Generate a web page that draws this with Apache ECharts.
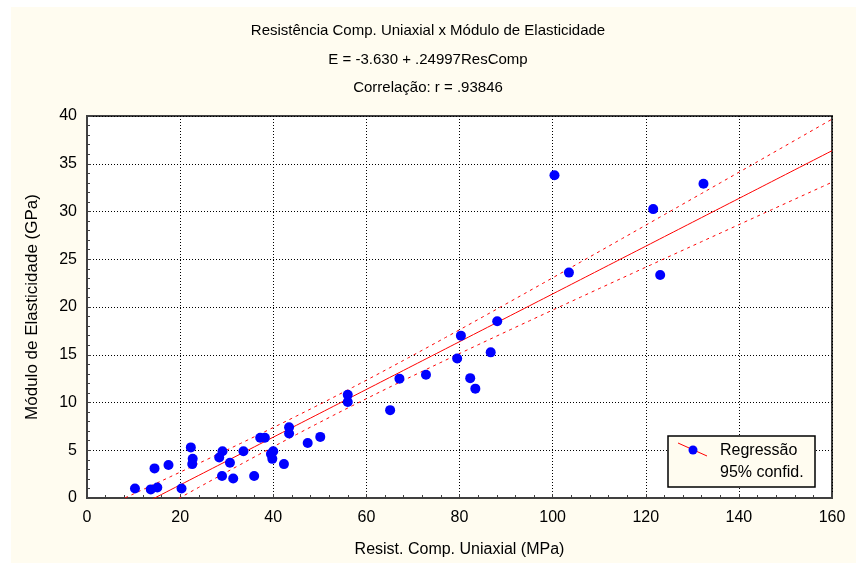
<!DOCTYPE html>
<html><head><meta charset="utf-8">
<script src="https://cdn.jsdelivr.net/npm/echarts@6/dist/echarts.min.js"></script>
<style>html,body{margin:0;padding:0;background:#fff}#c{width:856px;height:563px}</style>
</head><body><div id="c"></div>
<script>
// Data (Resist. Comp. Uniaxial MPa, Módulo de Elasticidade GPa)
var resComp = [10.3,13.7,15.1,14.5,17.5,20.3,22.3,22.7,22.6,29.1,28.4,30.7,29.0,31.4,33.6,35.9,37.2,38.2,40.0,39.5,39.8,42.3,43.4,43.4,47.4,50.1,56.0,56.0,65.1,67.1,72.8,79.5,80.3,82.3,83.4,86.7,88.1,100.4,103.5,121.6,123.1,132.4];
var modulo  = [1.0,0.9,1.1,3.1,3.45,1.0,5.3,4.1,3.55,4.9,4.25,3.7,2.3,2.05,4.9,2.3,6.3,6.3,4.9,4.6,4.1,3.55,7.4,6.75,5.75,6.4,10.8,10.05,9.2,12.5,12.9,14.6,17.0,12.55,11.45,15.25,18.5,33.8,23.6,30.25,23.35,32.9];
var intercept = -3.630, slope = 0.24997;
var xTicks = [0,20,40,60,80,100,120,140,160];
var yTicks = [0,5,10,15,20,25,30,35,40];
var titleLines = ['Resistência Comp. Uniaxial x Módulo de Elasticidade','E = -3.630 + .24997ResComp','Correlação: r = .93846'];
var legendLines = ['Regressão','95% confid.'];

var n = resComp.length;
var xm = resComp.reduce(function(a,b){return a+b;},0)/n;
var sxx = 0, sse = 0;
for (var i=0;i<n;i++){ sxx += (resComp[i]-xm)*(resComp[i]-xm); var r = modulo[i]-(intercept+slope*resComp[i]); sse += r*r; }
var s = Math.sqrt(sse/(n-2)), tval = 2.021;
var regLine = [], upper = [], lower = [];
for (var x=0; x<=160; x+=1){
  var yh = intercept+slope*x;
  var hw = tval*s*Math.sqrt(1/n + (x-xm)*(x-xm)/sxx);
  regLine.push([x,yh]); upper.push([x,yh+hw]); lower.push([x,yh-hw]);
}
var pts = resComp.map(function(v,i){return [v,modulo[i]];});

var font = '"Liberation Sans", Arial, sans-serif';
var chart = echarts.init(document.getElementById('c'), null, {renderer:'canvas'});
chart.setOption({
  backgroundColor:'#FFFCF0',
  animation:false,
  title: titleLines.map(function(t,i){return {text:t,left:'center',top:[18,47,75][i],textStyle:{fontFamily:font,fontSize:15,fontWeight:'normal',color:'#000'}};}),
  grid:{left:87,right:24,top:116,bottom:64,show:true,backgroundColor:'#fff',borderColor:'#404040',borderWidth:2},
  xAxis:{type:'value',min:0,max:160,interval:20,
    name:'Resist. Comp. Uniaxial (MPa)',nameLocation:'middle',nameGap:44,
    nameTextStyle:{fontFamily:font,fontSize:16,color:'#000'},
    axisLine:{show:true,lineStyle:{color:'#404040',width:2}},
    axisTick:{show:true,inside:true,length:4,lineStyle:{color:'#404040'}},
    minorTick:{show:true,splitNumber:5,length:3,lineStyle:{color:'#404040'}},
    axisLabel:{fontFamily:font,fontSize:16,color:'#000',margin:12,formatter:function(v){return xTicks.indexOf(v)>=0?String(v):'';}},
    splitLine:{show:true,lineStyle:{color:'#000',type:[1,2],width:1}}},
  yAxis:{type:'value',min:0,max:40,interval:5,
    name:'Módulo de Elasticidade (GPa)',nameLocation:'middle',nameGap:46,
    nameTextStyle:{fontFamily:font,fontSize:17,color:'#000'},
    axisLine:{show:true,lineStyle:{color:'#404040',width:2}},
    axisTick:{show:true,inside:true,length:4,lineStyle:{color:'#404040'}},
    minorTick:{show:true,splitNumber:5,length:3,lineStyle:{color:'#404040'}},
    axisLabel:{fontFamily:font,fontSize:16,color:'#000',margin:10,formatter:function(v){return yTicks.indexOf(v)>=0?String(v):'';}},
    splitLine:{show:true,lineStyle:{color:'#000',type:[1,2],width:1}}},
  series:[
    {type:'line',data:upper,showSymbol:false,clip:true,lineStyle:{color:'#FF0000',width:1,type:[3,4]},z:3},
    {type:'line',data:lower,showSymbol:false,clip:true,lineStyle:{color:'#FF0000',width:1,type:[3,4]},z:3},
    {type:'line',data:regLine,showSymbol:false,clip:true,lineStyle:{color:'#FF0000',width:1},z:3},
    {type:'scatter',data:pts,symbol:'circle',symbolSize:10,itemStyle:{color:'#0000FF',opacity:1},z:4}
  ],
  graphic:[
    {type:'rect',left:0,top:0,shape:{width:856,height:7},style:{fill:'#fff'},silent:true},
    {type:'rect',left:0,top:0,shape:{width:11,height:563},style:{fill:'#fff'},silent:true},
    {type:'rect',shape:{x:668,y:436,width:147,height:51},style:{fill:'#FFFCF0',stroke:'#000',lineWidth:1.5},z:10},
    {type:'line',shape:{x1:678,y1:443,x2:707,y2:456},style:{stroke:'#FF0000',lineWidth:1},z:11},
    {type:'circle',shape:{cx:693,cy:450,r:4.5},style:{fill:'#0000FF'},z:12},
    {type:'text',x:720,y:451,style:{text:legendLines[0],font:'16px '+font,fill:'#000',verticalAlign:'middle'},z:12},
    {type:'text',x:720,y:473,style:{text:legendLines[1],font:'16px '+font,fill:'#000',verticalAlign:'middle'},z:12}
  ]
});
</script></body></html>
